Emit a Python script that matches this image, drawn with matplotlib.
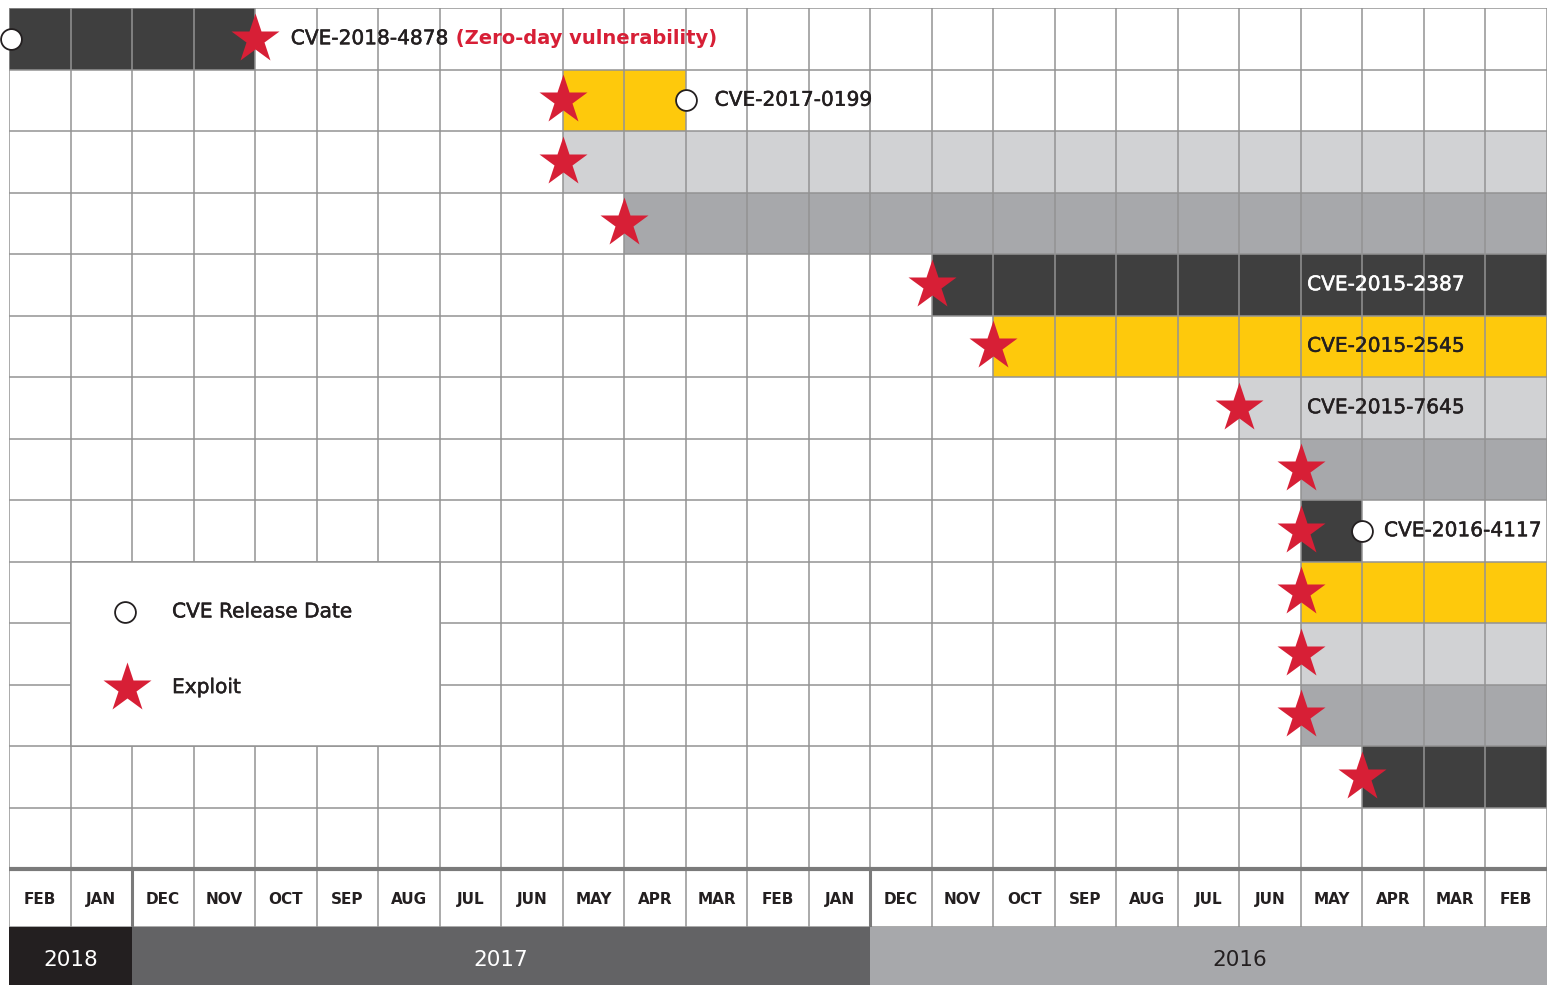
import matplotlib
matplotlib.use('Agg')
from matplotlib import pyplot as plt
from matplotlib.patches import Rectangle
from matplotlib import patheffects as pe

plt.rcParams['font.family'] = ['DejaVu Sans']

# ---- data ----
months = ['FEB', 'JAN', 'DEC', 'NOV', 'OCT', 'SEP', 'AUG', 'JUL', 'JUN', 'MAY', 'APR', 'MAR', 'FEB',
          'JAN', 'DEC', 'NOV', 'OCT', 'SEP', 'AUG', 'JUL', 'JUN', 'MAY', 'APR', 'MAR', 'FEB']
years = ['2018', '2017', '2016']
year_months = [2, 12, 11]
year_label_span = [2, 12, 12]           # labels are centred on the whole year

cve_names = ['CVE-2018-4878', 'CVE-2017-0199', '', '', 'CVE-2015-2387', 'CVE-2015-2545',
             'CVE-2015-7645', '', 'CVE-2016-4117', '', '', '', '']
bar_start = [0, 9, 9, 10, 15, 16, 20, 21, 21, 21, 21, 21, 22]   # month index (0 = FEB 2018)
bar_end = [4, 11, 25, 25, 25, 25, 25, 25, 22, 25, 25, 25, 25]
exploit_at = [4, 9, 9, 10, 15, 16, 20, 21, 21, 21, 21, 21, 22]
release_at = [0, 11, None, None, None, None, None, None, 22, None, None, None, None]

# ---- styles ----
DARK = '#3f3f3f'
YELLOW = '#fec90c'
LIGHT = '#d1d2d4'
MID = '#a7a8ab'
RED = '#d71f36'
TXT = '#231f20'
row_colors = [DARK, YELLOW, LIGHT, MID] * 4
year_colors = ['#231f20', '#636365', '#a7a8ab']
year_text = ['white', 'white', TXT]
GRID = '#939393'

n_cols = len(months)
n_rows = 14
row_px = 61.5
W, H = 1548, 985
top_px, left_px, right_px = 8, 9, 1547
band = 58 / row_px                      # month / year band height in row units
y_max = n_rows + 2 * band


def medium(color):
    # DejaVu has no medium weight, thicken the regular face a little
    return [pe.withStroke(linewidth=0.35, foreground=color)]


fig = plt.figure(figsize=(W / 100, H / 100), dpi=100)
ax = fig.add_axes([left_px / W, 0, (right_px - left_px) / W, (H - top_px) / H])
ax.set_xlim(0, n_cols)
ax.set_ylim(y_max, 0)
ax.axis('off')

# bars
for i in range(len(bar_start)):
    ax.add_patch(Rectangle((bar_start[i], i), bar_end[i] - bar_start[i], 1,
                           facecolor=row_colors[i], edgecolor='none', zorder=1))

# grid
for c in range(n_cols + 1):
    ax.plot([c, c], [0, n_rows + band], color=GRID, lw=1.1, zorder=2)
for r in range(n_rows):
    ax.plot([0, n_cols], [r, r], color=GRID, lw=1.1, zorder=2)
ax.plot([0, n_cols], [n_rows, n_rows], color='#7a7a7a', lw=3, zorder=2)
ax.plot([0, n_cols], [n_rows + band, n_rows + band], color=GRID, lw=1.1, zorder=2)
# year separators in month band
for b in [2, 14]:
    ax.plot([b, b], [n_rows, n_rows + band], color='#7a7a7a', lw=2.2, zorder=2)

# month labels
for c, m in enumerate(months):
    ax.text(c + 0.5, n_rows + band / 2 + 0.02, m, ha='center', va='center',
            fontsize=11, fontweight='bold', color=TXT)

# year band
x0 = 0
for y, span, lspan, fc, tc in zip(years, year_months, year_label_span, year_colors, year_text):
    ax.add_patch(Rectangle((x0, n_rows + band), span, band, facecolor=fc,
                           edgecolor='none', zorder=3))
    ax.text(x0 + lspan / 2, n_rows + 1.5 * band + 0.06, y, ha='center', va='center',
            fontsize=15.5, color=tc, zorder=4)
    x0 += span

# exploits and release dates
for i in range(len(exploit_at)):
    ax.plot(exploit_at[i], i + 0.5, marker='*', ms=37, color=RED, mec='none', zorder=6,
            clip_on=False)
    if release_at[i] is not None:
        ax.plot(release_at[i] + (0.03 if release_at[i] == 0 else 0), i + 0.5, marker='o',
                ms=15, mfc='white', mec=TXT, mew=1.3, zorder=6, clip_on=False)

# CVE labels
for i, name in enumerate(cve_names):
    if not name:
        continue
    if bar_end[i] == n_cols:
        x = 21.1
        color = 'white' if row_colors[i] == DARK else TXT
    elif release_at[i] is not None and release_at[i] >= bar_end[i]:
        x = release_at[i] + 0.35 + (0.12 if i == 1 else 0)
        color = TXT
    else:
        x = exploit_at[i] + 0.58
        color = TXT
    t = ax.text(x, i + 0.5, name, ha='left', va='center', fontsize=14.5,
                color=color, zorder=7, path_effects=medium(color))
    if i == 0:
        ax.annotate(' (Zero-day vulnerability)', xycoords=t, xy=(1, 0.5), va='center',
                    ha='left', fontsize=14, fontweight='bold', color=RED, zorder=7)

# legend box
ax.add_patch(Rectangle((1, 9), 6, 3, facecolor='white', edgecolor=GRID, lw=1.1, zorder=4))
ax.plot(1.88, 9.82, marker='o', ms=15, mfc='white', mec=TXT, mew=1.3, zorder=6)
ax.plot(1.92, 11.05, marker='*', ms=37, color=RED, mec='none', zorder=6)
ax.text(2.65, 9.82, 'CVE Release Date', ha='left', va='center', fontsize=14.5,
        color=TXT, zorder=7, path_effects=medium(TXT))
ax.text(2.65, 11.05, 'Exploit', ha='left', va='center', fontsize=14.5,
        color=TXT, zorder=7, path_effects=medium(TXT))

fig.savefig('out.png', dpi=100)
